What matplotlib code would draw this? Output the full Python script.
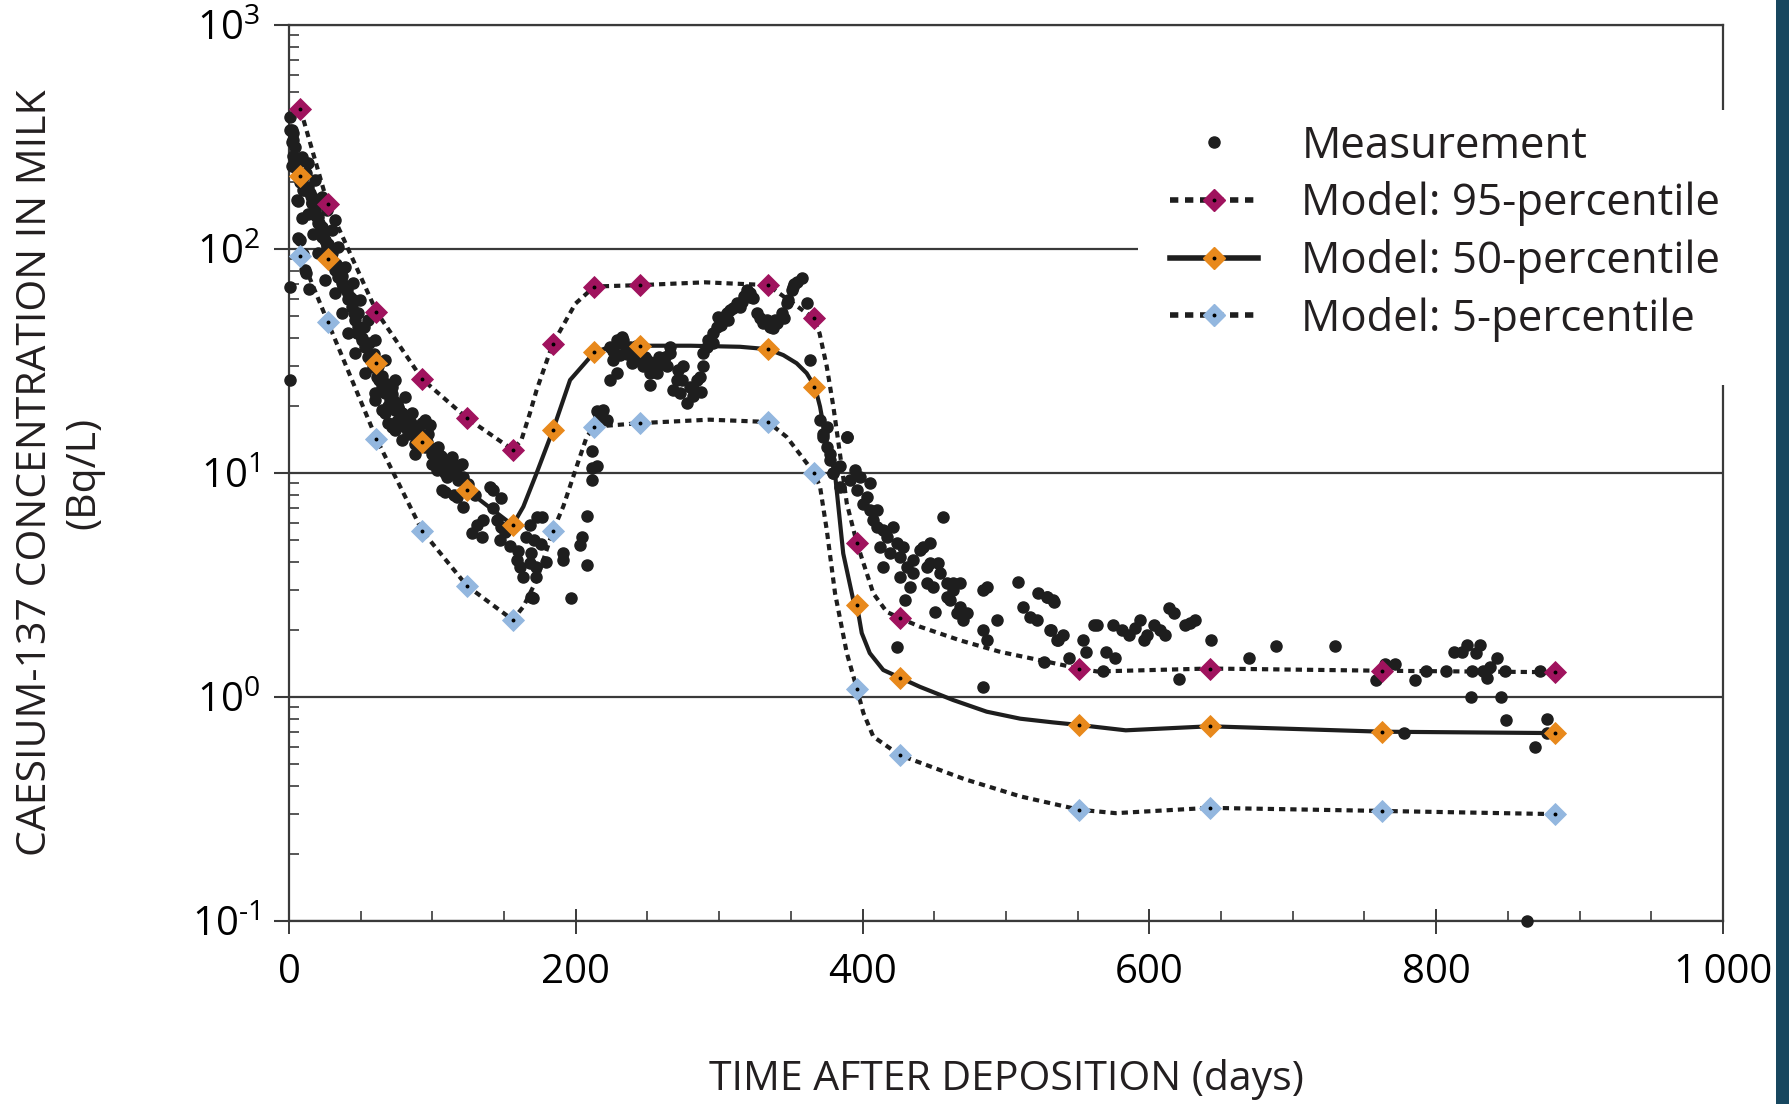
import matplotlib
matplotlib.use('Agg')
import matplotlib.pyplot as plt
from matplotlib.lines import Line2D
from matplotlib.patches import Rectangle
from matplotlib.ticker import LogLocator, MultipleLocator, NullFormatter

# ---- model percentiles: marker positions ----
mk_days = [8, 27, 61, 93, 124, 156, 184, 213, 245, 334, 366, 396, 426, 551, 642, 762, 883]
p95_mk = [420, 159, 52.5, 26.2, 17.6, 12.7, 37.8, 68, 69, 69, 49, 4.87, 2.25, 1.34, 1.34, 1.31, 1.29]
p50_mk = [212, 90, 31, 13.8, 8.4, 5.85, 15.5, 34.6, 37, 35.7, 24.2, 2.58, 1.22, 0.75, 0.74, 0.70, 0.69]
p5_mk = [93.5, 47.3, 14.2, 5.5, 3.14, 2.21, 5.5, 16.1, 16.7, 16.9, 10.05, 1.09, 0.55, 0.314, 0.32, 0.31, 0.30]

# ---- model curves ----
p95_ln_d = [8, 27, 61, 93, 124, 156, 162, 168, 172.7, 184, 199.7, 213, 245, 290, 334, 366, 370,
            375, 379.6, 384.2, 389, 396, 407.5, 416.8, 426, 440, 468, 496, 528, 551, 563.5, 642, 762, 883]
p95_ln_v = [420, 159, 52.5, 26.2, 17.6, 12.7, 14, 18.5, 23.5, 37.8, 57, 68, 69, 71, 69, 49, 42,
            29.9, 19.8, 12.2, 7.3, 4.87, 2.9, 2.4, 2.25, 2.06, 1.79, 1.59, 1.44, 1.34, 1.30, 1.34, 1.31, 1.29]

p50_ln_d = [8, 27, 61, 93, 124, 156, 163.4, 172.7, 184, 196, 213, 224, 245, 280, 314.5, 334, 344.7,
            354, 361, 366.8, 370.3, 375, 380.7, 386.5, 393.5, 396, 399.4, 405, 414.4, 426, 440, 463,
            486.5, 510, 533, 551, 583.5, 642, 762, 883]
p50_ln_v = [212, 90, 31, 13.8, 8.4, 5.85, 7.07, 10, 15.5, 26, 34.6, 36.6, 37, 37, 36.6, 35.7, 33.6,
            30.9, 27.9, 24.2, 19.8, 13.5, 10, 4.37, 2.71, 2.58, 1.93, 1.57, 1.32, 1.22, 1.11, 0.97,
            0.86, 0.8, 0.77, 0.75, 0.71, 0.74, 0.70, 0.69]

p5_ln_d = [8, 27, 61, 93, 124, 156, 163.4, 172.7, 184, 191.3, 200.6, 207.6, 213, 245, 293, 334, 347,
           356, 366, 370.3, 375, 380.8, 389, 396, 400.5, 407.5, 426, 471, 510, 551, 576.5, 642, 762, 883]
p5_ln_v = [93.5, 47.3, 14.2, 5.5, 3.14, 2.21, 2.53, 3.33, 5.5, 7.1, 10.7, 14.5, 16.1, 16.7, 17.3, 16.9,
           14.5, 12.2, 10.05, 8.7, 5.57, 2.9, 1.57, 1.09, 0.85, 0.665, 0.55, 0.43, 0.36, 0.314, 0.303,
           0.32, 0.31, 0.30]

# ---- measurements (day, Bq/L) ----
# early decline, days 0-130
meas_a_d = [0.5, 1, 2, 3, 3, 2, 0.5, 0.5, 5.3, 9, 8, 10, 12, 14, 9, 12, 7.7, 6.3, 6.5, 11,
            1.9, 4.2, 6.5, 10, 13.5, 15.8, 18.1, 20.5, 22.8, 23.9, 26.3, 29.8, 32.1, 34.4, 36.7, 40.2,
            42.5, 43.7, 46, 47.2, 50.7, 53, 55.3, 58.8, 61.1, 64.6, 67, 70.4, 73.9, 77.4, 80.9, 85.5,
            90.2, 94.8, 99.5, 104.1, 108.8, 113.4, 118.1, 122.7,
            10, 13.5, 17, 20.5, 25.1, 32.1, 36.7, 41.4, 46, 53, 60, 64.6, 71.6, 78.6, 87.9, 99.5, 108.8,
            13.5, 18.1, 22.8, 26.3, 29.8, 34.4, 39, 44.9, 49.5, 55.3, 60, 67, 73.9, 80.9, 85.5, 92.5,
            97.2, 104.1, 113.4, 120.4,
            32.1, 18, 20.4, 22.8, 11, 14.6, 60, 67, 69.3, 73.9, 71.6, 76.2, 85, 95, 99.5, 106.5, 115, 118,
            3, 5, 8, 16, 21, 25, 28, 31, 35, 38, 41, 45, 48, 51, 57, 63, 69, 75, 83, 88,
            16, 19, 24, 27, 30, 33, 37, 40, 44, 48, 52, 56, 59, 62, 65, 68, 72, 75, 79, 82,
            87, 91, 96, 101, 106, 111, 116, 121, 125, 130]
meas_a_v = [390, 340, 300, 328, 307, 234, 68, 26, 166, 137, 110, 95, 78, 66, 257, 218, 250, 163, 112, 80.6,
            340, 286, 241, 210, 190, 171, 155, 139, 126, 114, 102, 89, 80.5, 75.3, 70.3, 65.6,
            61.3, 55.3, 48.2, 42, 39.3, 36.6, 33, 29.8, 26.9, 24.3, 22.7, 21.2, 19.1, 17.8, 16.1, 15,
            14, 13.1, 12.2, 11.4, 10.7, 9.97, 9.3, 8.4,
            183, 144, 117, 95.5, 72.6, 63.4, 51.6, 42, 34.2, 27.9, 22.7, 19.1, 16.1, 14, 12.2, 11.0, 9.97,
            241, 203, 171, 149, 122, 102, 83.4, 70.3, 59.2, 48.2, 39.3, 31.9, 26, 21.9, 18.5, 16.7,
            15, 13.1, 11.8, 11.0,
            135, 149, 131, 113, 183, 178, 21.2, 18.5, 16.7, 15.6, 24.3, 19.8, 16.7, 17.3, 12.7, 8.4, 8.0, 10.7,
            260, 230, 200, 160, 130, 110, 95, 85, 78, 68, 60, 52, 45, 40, 32, 26, 20, 17, 15, 13.5,
            160, 140, 118, 105, 96, 86, 76, 68, 60, 52, 45, 38, 34, 30, 27, 25, 22.5, 20.5, 18.6, 17.5,
            16, 15.2, 13.8, 12.8, 11.9, 10.3, 10.2, 9.6, 8.9, 8.0]

# autumn dip, days 98-222
meas_b_d = [98.3, 103, 104.5, 107, 111, 119, 103, 110, 109, 117, 121.6, 135.5, 131, 127.6, 134.5, 140,
            142.5, 148, 142, 144.8, 148, 150.6, 147, 154, 160, 168, 172.7, 176.2, 165.5, 171, 176, 169,
            159, 161, 168, 172, 179, 163, 172, 168.6, 170, 191.3, 191.3, 204, 203, 207.6, 207.7, 196.4,
            211, 211.5, 211, 214.5, 215, 216, 219.2, 221.5]
meas_b_v = [16.4, 12.2, 11.4, 11.1, 11.0, 10.9, 10.3, 9.6, 8.26, 7.84, 7.07, 6.17, 5.86, 5.4, 5.2, 8.7,
            8.4, 7.7, 6.95, 6.17, 5.76, 5.47, 5.0, 4.7, 4.5, 5.86, 6.38, 6.38, 5.2, 5.0, 4.8, 4.4,
            4.1, 3.8, 3.96, 3.8, 4.0, 3.44, 3.44, 2.8, 2.77, 4.38, 4.1, 5.2, 4.77, 3.88, 6.46, 2.76,
            9.3, 10.5, 12.6, 10.7, 19, 17.8, 19.1, 17.3]

# winter plateau, days 220-365
meas_c_d = [223.8, 228.5, 223.8, 228.5, 233.1, 237.8, 230.8, 226.2, 232, 240.1, 244.8, 247.1, 256.4,
            261, 265.7, 265.7, 251.8, 256.4, 251.8, 249.4, 254.1, 263.4, 271.6, 275, 268, 272.6, 277.3,
            279.6, 284.3, 270.3, 286.6, 289, 289, 291.3, 292.5, 295.9, 298.2, 299.4, 302.9, 305.2,
            307.5, 309.8, 312.2, 314.5, 319.2, 321.5, 321.5, 323.8, 326.1, 328.4, 330.8, 335.4, 337.7,
            340, 343.6, 347, 348.2, 350.5, 351.7, 354, 357.6, 361, 363.4,
            235, 242, 258, 282, 317, 333, 345,
            226, 230, 236, 239, 244, 248, 253, 258, 262, 274, 282, 287, 296, 301, 306, 316, 339, 352]
meas_c_v = [26, 27.9, 36.6, 39.3, 39.3, 36.6, 33.6, 31.9, 40.6, 33, 35.4, 29.9, 29.9,
            30.9, 34.2, 36.6, 27.9, 27.9, 24.7, 31.9, 30.9, 29.9, 28.8, 29.9, 23.5, 22.7, 20.5,
            24.3, 26, 26, 26.9, 29.9, 34.2, 36.6, 39.3, 42, 45, 49.9, 49.9, 51.6,
            53.4, 54.3, 57.2, 55.2, 65.6, 63.4, 61.2, 60.2, 51.6, 49, 46.6, 45, 44.2,
            46.6, 51.6, 57.2, 59.2, 65.6, 67.9, 71.5, 74, 57.2, 31.9,
            35, 37, 33, 22, 62, 48, 49,
            35, 38, 34, 31, 32, 33, 31, 32, 33, 26, 24, 23, 38, 46, 48, 58, 48, 70]

# spring drop, days 365-540
meas_d_d = [370.3, 372.6, 374.9, 377.3, 379.6, 388.9, 372.6, 377.3, 384.2, 389, 374.9, 379.6, 384.2,
            391.2, 395.9, 398.2, 405.2, 394.7, 400.5, 402.8, 405.2, 407.5, 409.8, 409.8, 421.5, 416.8,
            412.2, 414.5, 419.1, 414.5, 423.8, 426.1, 428.4, 430.8, 435.4, 435.4, 440.1, 442.4, 447,
            447, 426.1, 433.1, 444.7, 444.7, 452.9, 454, 458.7, 458.7, 463.3, 463.3, 468, 461, 468,
            472.6, 470.3, 465.6, 456.3, 449.3, 429.6, 450.5, 423.8, 484.2, 486.5, 484.2, 486.5,
            493.5, 508.6, 512.1, 516.7, 521.4, 522.5, 528.3, 533, 530.6, 535.3, 484.2]
meas_d_v = [17.3, 15, 13.1, 11.4, 10, 14.5, 14.5, 12.2, 10.7, 14.5, 16.1, 10, 8.7,
            9.3, 8.4, 9.6, 9.0, 10.3, 7.3, 7.85, 6.84, 6.17, 5.76, 6.84, 5.76, 5.2,
            4.69, 3.82, 4.38, 5.57, 4.85, 4.23, 4.69, 3.82, 3.57, 4.1, 4.53, 4.69, 4.85,
            3.96, 3.44, 3.11, 3.22, 3.82, 3.96, 3.57, 3.22, 2.8, 3.22, 3.0, 3.22, 2.71, 2.53,
            2.36, 2.21, 2.36, 6.38, 3.11, 2.71, 2.4, 1.68, 3.0, 3.11, 1.99, 1.8,
            2.21, 3.27, 2.53, 2.28, 2.21, 2.9, 2.8, 2.71, 1.99, 1.8, 1.11]

# summer tail, days 520-880
meas_e_d = [528.7, 533.7, 531.2, 536.2, 539.9, 543.6, 526.2, 553.6, 556.1, 561.1, 563.6, 569.8, 576.1,
            567.3, 574.8, 581, 586, 589.7, 593.5, 596, 598.4, 603.4, 607.2, 610.9, 613.4, 617.1,
            624.6, 628.4, 632.1, 620.9, 643.2, 669.4, 688.1, 729.2, 764.1, 771.6, 757.8, 785.3,
            792.8, 806.5, 812.7, 821.4, 827.7, 830.2, 817.7, 825.2, 832.7, 835.2, 837.7, 842.7,
            847.7, 824, 845.2, 849, 877.6, 872.6, 777.8, 877.6, 869, 863]
meas_e_v = [2.8, 2.66, 1.99, 1.8, 1.89, 1.49, 1.44, 1.8, 1.59, 2.1, 2.1, 1.59, 1.49,
            1.3, 2.1, 1.99, 1.89, 2.03, 2.21, 1.8, 1.89, 2.1, 1.99, 1.89, 2.49, 2.36,
            2.1, 2.13, 2.21, 1.2, 1.8, 1.49, 1.69, 1.69, 1.41, 1.41, 1.19, 1.19,
            1.3, 1.3, 1.59, 1.71, 1.57, 1.71, 1.59, 1.3, 1.3, 1.21, 1.36, 1.49,
            1.3, 1.0, 1.0, 0.79, 0.80, 1.3, 0.69, 0.69, 0.6, 0.1]

x_ticks = [0, 200, 400, 600, 800, 1000]
x_labels = ['0', '200', '400', '600', '800', '1\u2009000']
y_ticks = [0.1, 1, 10, 100, 1000]
y_labels = [r'$\mathregular{10^{\text{-}1}}$', r'$\mathregular{10^{0}}$', r'$\mathregular{10^{1}}$',
            r'$\mathregular{10^{2}}$', r'$\mathregular{10^{3}}$']

MAGENTA = '#a0135e'
ORANGE = '#e8891c'
LIGHTBLUE = '#93b7df'
AXCOL = '#3a3a3a'
INK = '#1e1e1e'
DOTTED = (0, (1.5, 1.2))
DIAMOND_MS = 11.5

plt.rcParams['font.family'] = ['Open Sans', 'DejaVu Sans']
plt.rcParams['mathtext.fontset'] = 'custom'
plt.rcParams['mathtext.rm'] = 'Open Sans'
plt.rcParams['mathtext.it'] = 'Open Sans:italic'
plt.rcParams['mathtext.bf'] = 'Open Sans:bold'

W, H = 1790, 1104
fig = plt.figure(figsize=(W / 100, H / 100), dpi=100)
ax = fig.add_axes([289 / W, 1 - 921 / H, (1723 - 289) / W, (921 - 25) / H])

meas_d = meas_a_d + meas_b_d + meas_c_d + meas_d_d + meas_e_d
meas_v = meas_a_v + meas_b_v + meas_c_v + meas_d_v + meas_e_v
ax.plot(meas_d, meas_v, ls='none', marker='o', ms=8, color=INK, zorder=3, clip_on=False)

ax.plot(p95_ln_d, p95_ln_v, color=INK, lw=3, ls=DOTTED, zorder=4)
ax.plot(p50_ln_d, p50_ln_v, color=INK, lw=3, zorder=4)
ax.plot(p5_ln_d, p5_ln_v, color=INK, lw=3, ls=DOTTED, zorder=4)

for vals, col in [(p95_mk, MAGENTA), (p50_mk, ORANGE), (p5_mk, LIGHTBLUE)]:
    ax.plot(mk_days, vals, ls='none', marker='D', ms=DIAMOND_MS, mfc=col, mec=col, mew=0.6, zorder=5)
    ax.plot(mk_days, vals, ls='none', marker='o', ms=1.8, color='black', zorder=6)

ax.set_yscale('log')
ax.set_xlim(0, 1000)
ax.set_ylim(0.1, 1000)

ax.set_xticks(x_ticks)
ax.set_xticklabels(x_labels)
ax.xaxis.set_minor_locator(MultipleLocator(50))
ax.set_yticks(y_ticks)
ax.set_yticklabels(y_labels)
ax.yaxis.set_minor_locator(LogLocator(base=10, subs=range(2, 10)))
ax.yaxis.set_minor_formatter(NullFormatter())

ax.tick_params(axis='x', which='major', direction='inout', length=18, width=1.4, color=AXCOL,
               labelsize=29, pad=14)
ax.tick_params(axis='x', which='minor', direction='in', length=7, width=1.2, color=AXCOL)
ax.tick_params(axis='y', which='major', direction='out', length=11, width=1.5, color=AXCOL,
               labelsize=29, pad=10)
ax.tick_params(axis='y', which='minor', direction='in', length=7, width=1.2, color=AXCOL)

ax.yaxis.grid(True, which='major', color=AXCOL, lw=1.6)
ax.set_axisbelow(True)
for s in ax.spines.values():
    s.set_color(AXCOL)
    s.set_linewidth(1.6)

fig.text(60 / W, 1 - 473 / H, 'CAESIUM-137 CONCENTRATION IN MILK\n(Bq/L)', rotation=90,
         ha='center', va='center', multialignment='center', fontsize=29.5, linespacing=1.25,
         color='#231f20')
fig.text(1006 / W, 1 - 1079 / H, 'TIME AFTER DEPOSITION (days)', ha='center', va='center',
         fontsize=29.5, color='#231f20')

# white block behind the legend, hides the gridline and right spine
fig.patches.append(Rectangle((1138 / W, 1 - 385 / H), (1745 - 1138) / W, (385 - 110) / H,
                             transform=fig.transFigure, facecolor='white', edgecolor='none', zorder=1))
# dark strip at right edge
fig.patches.append(Rectangle((1776 / W, 0), 1, 1, transform=fig.transFigure,
                             facecolor='#17475f', edgecolor='none', zorder=1))

h_meas = Line2D([], [], ls='none', marker='o', ms=8, color=INK)
dot = Line2D([], [], ls='none', marker='o', ms=1.8, color='black')
h95 = Line2D([], [], color=INK, lw=4, ls=DOTTED, marker='D', ms=DIAMOND_MS, mfc=MAGENTA, mec=MAGENTA)
h50 = Line2D([], [], color=INK, lw=4, marker='D', ms=DIAMOND_MS, mfc=ORANGE, mec=ORANGE)
h5 = Line2D([], [], color=INK, lw=4, ls=DOTTED, marker='D', ms=DIAMOND_MS, mfc=LIGHTBLUE, mec=LIGHTBLUE)
leg = fig.legend([h_meas, (h95, dot), (h50, dot), (h5, dot)],
                 ['Measurement', 'Model: 95-percentile', 'Model: 50-percentile', 'Model: 5-percentile'],
                 loc='upper left', bbox_to_anchor=(1170 / W, 1 - 124 / H), frameon=False,
                 fontsize=31.5, handlelength=2.0, handletextpad=1.0, labelspacing=0.29,
                 borderpad=0, borderaxespad=0)
leg.set_zorder(5)
for t in leg.get_texts():
    t.set_color('#231f20')

fig.savefig('out.png', dpi=100)
